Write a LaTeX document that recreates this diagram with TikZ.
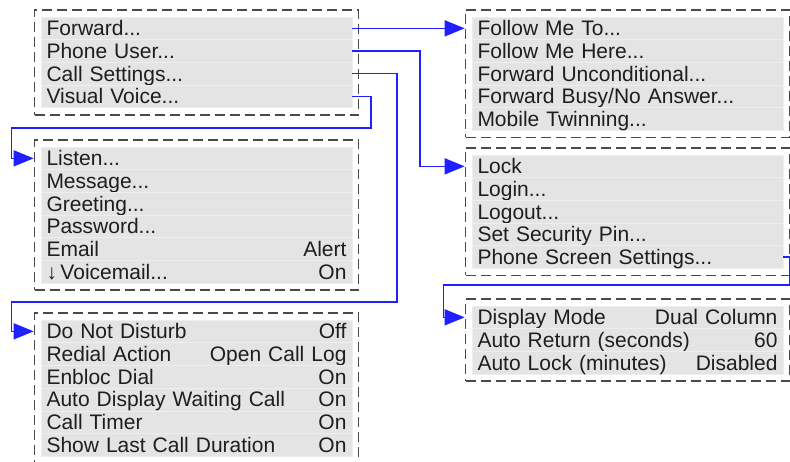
\documentclass[tikz,border=0pt]{standalone}
\usepackage{fontspec}
\setmainfont{Liberation Sans}
\usepackage{tikz}
\usetikzlibrary{arrows.meta, positioning, fit, calc}
\definecolor{rowgray}{HTML}{E4E4E4}
\definecolor{rowline}{HTML}{EEEEEE}
\definecolor{framegray}{HTML}{4A4A4A}
\definecolor{menutext}{HTML}{1E1E1E}
\definecolor{linkblue}{HTML}{1F1FFF}
\tikzset{
    rowitem/.style={rectangle, fill=rowgray, draw=rowline, line width=0.6pt, outer sep=0pt,
                    text width=300pt, inner xsep=5.5pt, inner ysep=0pt,
                    text height=18.7pt, text depth=4pt, align=left, text=menutext,
                    font=\fontsize{21}{22}\selectfont},
    menuframe/.style={rectangle, draw=framegray, line width=1.6pt, dash pattern=on 10pt off 5pt,
                      inner xsep=6.5pt, inner ysep=7pt},
    link/.style={line width=1.4pt, color=linkblue, -{Triangle[length=20pt, width=16pt]}},
}

\begin{document}
\begin{tikzpicture}[x=1pt, y=-1pt]
  \useasboundingbox (0,0) rectangle (790,462);
  \clip (0,0) rectangle (790,462);

  % main menu
  \node[rowitem, anchor=north west] (mm1) at (41,17) {Forward...};
  \node[rowitem, below=0pt of mm1] (mm2) {Phone User...};
  \node[rowitem, below=0pt of mm2] (mm3) {Call Settings...};
  \node[rowitem, below=0pt of mm3] (mm4) {Visual Voice...};
  \node[menuframe, fit=(mm1)(mm4)] (mainmenu) {};

  % visual voice
  \node[rowitem, anchor=north west] (vv1) at (41,147) {Listen...};
  \node[rowitem, below=0pt of vv1] (vv2) {Message...};
  \node[rowitem, below=0pt of vv2] (vv3) {Greeting...};
  \node[rowitem, below=0pt of vv3] (vv4) {Password...};
  \node[rowitem, below=0pt of vv4] (vv5) {Email\hfill Alert};
  \node[rowitem, below=0pt of vv5] (vv6) {↓\,Voicemail...\hfill On};
  \node[menuframe, fit=(vv1)(vv6)] (vvmenu) {};

  % call settings
  \node[rowitem, anchor=north west] (cs1) at (41,320) {Do Not Disturb\hfill Off};
  \node[rowitem, below=0pt of cs1] (cs2) {Redial Action\hfill Open Call Log};
  \node[rowitem, below=0pt of cs2] (cs3) {Enbloc Dial\hfill On};
  \node[rowitem, below=0pt of cs3] (cs4) {Auto Display Waiting Call\hfill On};
  \node[rowitem, below=0pt of cs4] (cs5) {Call Timer\hfill On};
  \node[rowitem, below=0pt of cs5] (cs6) {Show Last Call Duration\hfill On};
  \node[menuframe, fit=(cs1)(cs6)] (csmenu) {};

  % forward
  \node[rowitem, anchor=north west] (fw1) at (472,17) {Follow Me To...};
  \node[rowitem, below=0pt of fw1] (fw2) {Follow Me Here...};
  \node[rowitem, below=0pt of fw2] (fw3) {Forward Unconditional...};
  \node[rowitem, below=0pt of fw3] (fw4) {Forward Busy/No Answer...};
  \node[rowitem, below=0pt of fw4] (fw5) {Mobile Twinning...};
  \node[menuframe, fit=(fw1)(fw5)] (fwmenu) {};

  % phone user
  \node[rowitem, anchor=north west] (pu1) at (472,155) {Lock};
  \node[rowitem, below=0pt of pu1] (pu2) {Login...};
  \node[rowitem, below=0pt of pu2] (pu3) {Logout...};
  \node[rowitem, below=0pt of pu3] (pu4) {Set Security Pin...};
  \node[rowitem, below=0pt of pu4] (pu5) {Phone Screen Settings...};
  \node[menuframe, fit=(pu1)(pu5)] (pumenu) {};

  % phone screen settings
  \node[rowitem, anchor=north west] (ps1) at (472,306) {Display Mode\hfill Dual Column};
  \node[rowitem, below=0pt of ps1] (ps2) {Auto Return (seconds)\hfill 60};
  \node[rowitem, below=0pt of ps2] (ps3) {Auto Lock (minutes)\hfill Disabled};
  \node[menuframe, fit=(ps1)(ps3)] (psmenu) {};

  \draw[link] (mm1.east) -- (mm1.east -| fwmenu.west);
  \draw[link] (mm2.east) -- ++(68,0) |- (pu1.west -| pumenu.west);
  \draw[link] (mm3.east) -- ++(45,0) |- ($(csmenu.north west)+(-22,-10)$) |- (cs1.west -| csmenu.west);
  \draw[link] (mm4.east) -- ++(19,0) |- ($(vvmenu.north west)+(-22,-11)$) |- (vv1.west -| vvmenu.west);
  \draw[link] (pu5.east) -- ++(7,0) |- ($(psmenu.north west)+(-21,-13)$) |- (ps1.west -| psmenu.west);

\end{tikzpicture}
\end{document}
